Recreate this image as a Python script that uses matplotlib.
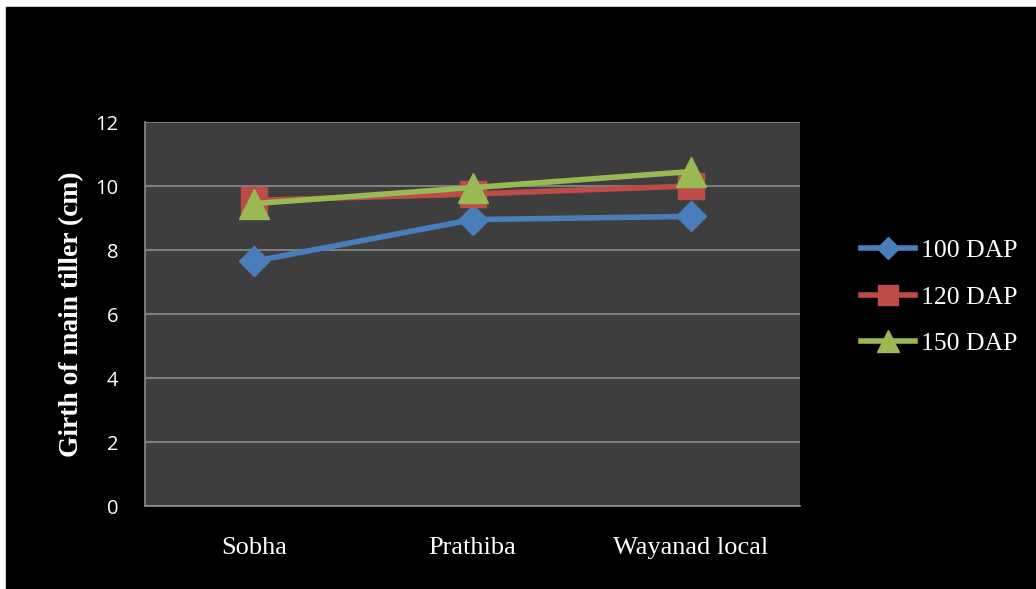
import numpy as np
import matplotlib
matplotlib.use("Agg")
from matplotlib import pyplot as plt

# girth of main tiller
varieties = ["Sobha", "Prathiba", "Wayanad local"]
dap100 = [7.65, 8.95, 9.05]
dap120 = [9.55, 9.75, 10.0]
dap150 = [9.45, 9.95, 10.45]
y_ticks = [0, 2, 4, 6, 8, 10, 12]

series = [
    ("100 DAP", dap100, "#4A7EBB", "D", 15),
    ("120 DAP", dap120, "#BE4B48", "s", 19),
    ("150 DAP", dap150, "#98B954", "^", 21),
]

fig = plt.figure(figsize=(10.36, 5.89), dpi=100, facecolor="white")
# black panel with a thin white margin on top and left
fig.patches.append(plt.Rectangle((6 / 1036, 0), 1, 1 - 7 / 589,
                                 transform=fig.transFigure, color="black", zorder=-1))
ax = fig.add_axes([145 / 1036, 1 - 506 / 589, 655 / 1036, 384 / 589])
ax.set_facecolor("#3E3E3E")

x = np.arange(len(varieties))
for name, vals, col, mk, ms in series:
    ax.plot(x, vals, color=col, lw=4, marker=mk, markersize=ms,
            markeredgecolor=col, label=name, zorder=3)

ax.set_xlim(-0.5, 2.5)
ax.set_ylim(0, 12)
ax.set_yticks(y_ticks)
ax.set_yticklabels([str(t) for t in y_ticks], color="white", fontsize=14.5,
                   family=["Open Sans", "DejaVu Sans"])
ax.set_xticks(x)
ax.set_xticklabels(varieties, color="white", fontsize=19, family="Liberation Serif")
ax.tick_params(axis="y", length=0, pad=19)
ax.tick_params(axis="x", length=0, pad=22)
ax.grid(axis="y", color="#8C8C8C", lw=1.2)
ax.set_axisbelow(True)
for s in ["top", "right"]:
    ax.spines[s].set_visible(False)
for s in ["left", "bottom"]:
    ax.spines[s].set_color("#8C8C8C")
    ax.spines[s].set_linewidth(1.2)

ax.set_ylabel("Girth of main tiller (cm)", color="white", fontsize=19.8,
              fontweight="bold", family="Liberation Serif")
ax.yaxis.set_label_coords(-0.093, 0.5)

leg = ax.legend(loc="center left", bbox_to_anchor=(1.058, 0.544), frameon=False,
                labelspacing=0.93, handlelength=2.1, handletextpad=0.25,
                markerscale=0.75, prop={"family": "Liberation Serif", "size": 18.5})
for t in leg.get_texts():
    t.set_color("white")

fig.savefig("out.png", dpi=100, facecolor=fig.get_facecolor())
